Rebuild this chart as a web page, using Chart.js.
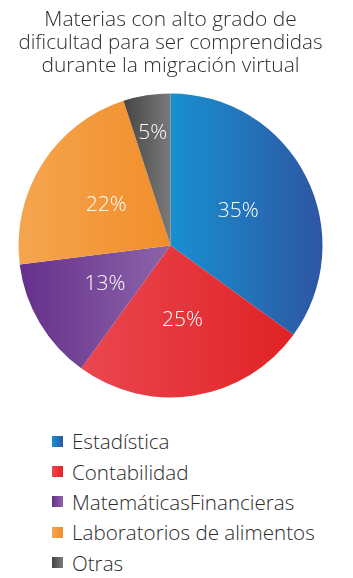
<!DOCTYPE html>
<html>
<head>
<meta charset="utf-8">
<script src="https://cdn.jsdelivr.net/npm/chart.js@4.4.0/dist/chart.umd.min.js"></script>
<style>
  html, body { margin: 0; padding: 0; background: #fff; }
  #wrap { position: relative; width: 353px; height: 578px; }
  #chart { position: absolute; left: 0; top: 0; }
  #legend {
    position: absolute; left: 52px; top: 426px;
    font-family: 'Open Sans', sans-serif; font-weight: 300; font-size: 20.6px; color: #2b2b2b;
  }
  #legend .item { height: 30.35px; display: flex; align-items: center; white-space: nowrap; }
  #legend .box { width: 11px; height: 11px; margin-right: 9px; flex: none; }
</style>
</head>
<body>
<div id="wrap">
  <canvas id="chart" width="353" height="420"></canvas>
  <div id="legend"></div>
</div>
<script>
// chart data
const titleLines = ['Materias con alto grado de', 'dificultad para ser comprendidas', 'durante la migración virtual'];
const labels = ['Estadística', 'Contabilidad', 'MatemáticasFinancieras', 'Laboratorios de alimentos', 'Otras'];
const values = [35, 25, 13, 22, 5];

// each slice is shaded left -> right
const colorsLeft = ['#1890d1', '#ea4750', '#66308c', '#f5a54f', '#454545'];
const colorsRight = ['#2e56a2', '#e02225', '#8c64a9', '#f18e2a', '#7a7a7a'];

const fontFamily = "'Open Sans', sans-serif";

/**
 * Horizontal gradient spanning the x extent of one slice
 */
const sliceGradient = (context) => {
  const chart = context.chart;
  const area = chart.chartArea;
  const i = context.dataIndex;
  if (!area || i === undefined) return colorsRight[i || 0];

  const cx = (area.left + area.right) / 2;
  const r = Math.min(area.width, area.height) / 2;
  const total = values.reduce((a, b) => a + b, 0);
  const before = values.slice(0, i).reduce((a, b) => a + b, 0);
  const a0 = -Math.PI / 2 + before / total * 2 * Math.PI;
  const a1 = a0 + values[i] / total * 2 * Math.PI;

  const xs = [cx, cx + r * Math.cos(a0), cx + r * Math.cos(a1)];
  for (let k = -2; k <= 2; k++) {
    const ang = k * Math.PI;
    if (ang >= a0 && ang <= a1) xs.push(cx + r * Math.cos(ang));
  }
  const g = chart.ctx.createLinearGradient(Math.min(...xs), 0, Math.max(...xs), 0);
  g.addColorStop(0, colorsLeft[i]);
  g.addColorStop(1, colorsRight[i]);
  return g;
};

// percentage labels inside the slices
const sliceLabels = {
  id: 'sliceLabels',
  afterDatasetsDraw: (chart) => {
    const ctx = chart.ctx;
    const meta = chart.getDatasetMeta(0);
    ctx.save();
    ctx.font = '300 21px ' + fontFamily;
    ctx.fillStyle = '#ffffff';
    ctx.textAlign = 'center';
    ctx.textBaseline = 'middle';
    meta.data.forEach((arc, i) => {
      const frac = values[i] < 10 ? 0.75 : 0.5;
      const mid = (arc.startAngle + arc.endAngle) / 2;
      const x = arc.x + Math.cos(mid) * arc.outerRadius * frac;
      const y = arc.y + Math.sin(mid) * arc.outerRadius * frac;
      ctx.fillText(values[i] + '%', x, y);
    });
    ctx.restore();
  }
};

const chart = new Chart(document.getElementById('chart'), {
  type: 'pie',
  data: {
    labels: labels,
    datasets: [{
      data: values,
      backgroundColor: sliceGradient,
      borderWidth: 0,
      hoverOffset: 0
    }]
  },
  options: {
    responsive: false,
    animation: false,
    layout: {
      padding: { left: 18.5, right: 30.5, top: 0, bottom: 22.5 }
    },
    plugins: {
      legend: { display: false },
      tooltip: { enabled: false },
      title: {
        display: true,
        text: titleLines,
        color: '#2e2e2e',
        font: { family: fontFamily, size: 21, weight: '300', lineHeight: 1.1 },
        padding: { top: 8, bottom: 16 }
      }
    }
  },
  plugins: [sliceLabels]
});

// html legend built from the same arrays
const legendEl = document.getElementById('legend');
labels.forEach((label, i) => {
  const item = document.createElement('div');
  item.className = 'item';
  const box = document.createElement('span');
  box.className = 'box';
  box.style.background = 'linear-gradient(to right, ' + colorsLeft[i] + ', ' + colorsRight[i] + ')';
  const text = document.createElement('span');
  text.textContent = label;
  item.appendChild(box);
  item.appendChild(text);
  legendEl.appendChild(item);
});
</script>
</body>
</html>
